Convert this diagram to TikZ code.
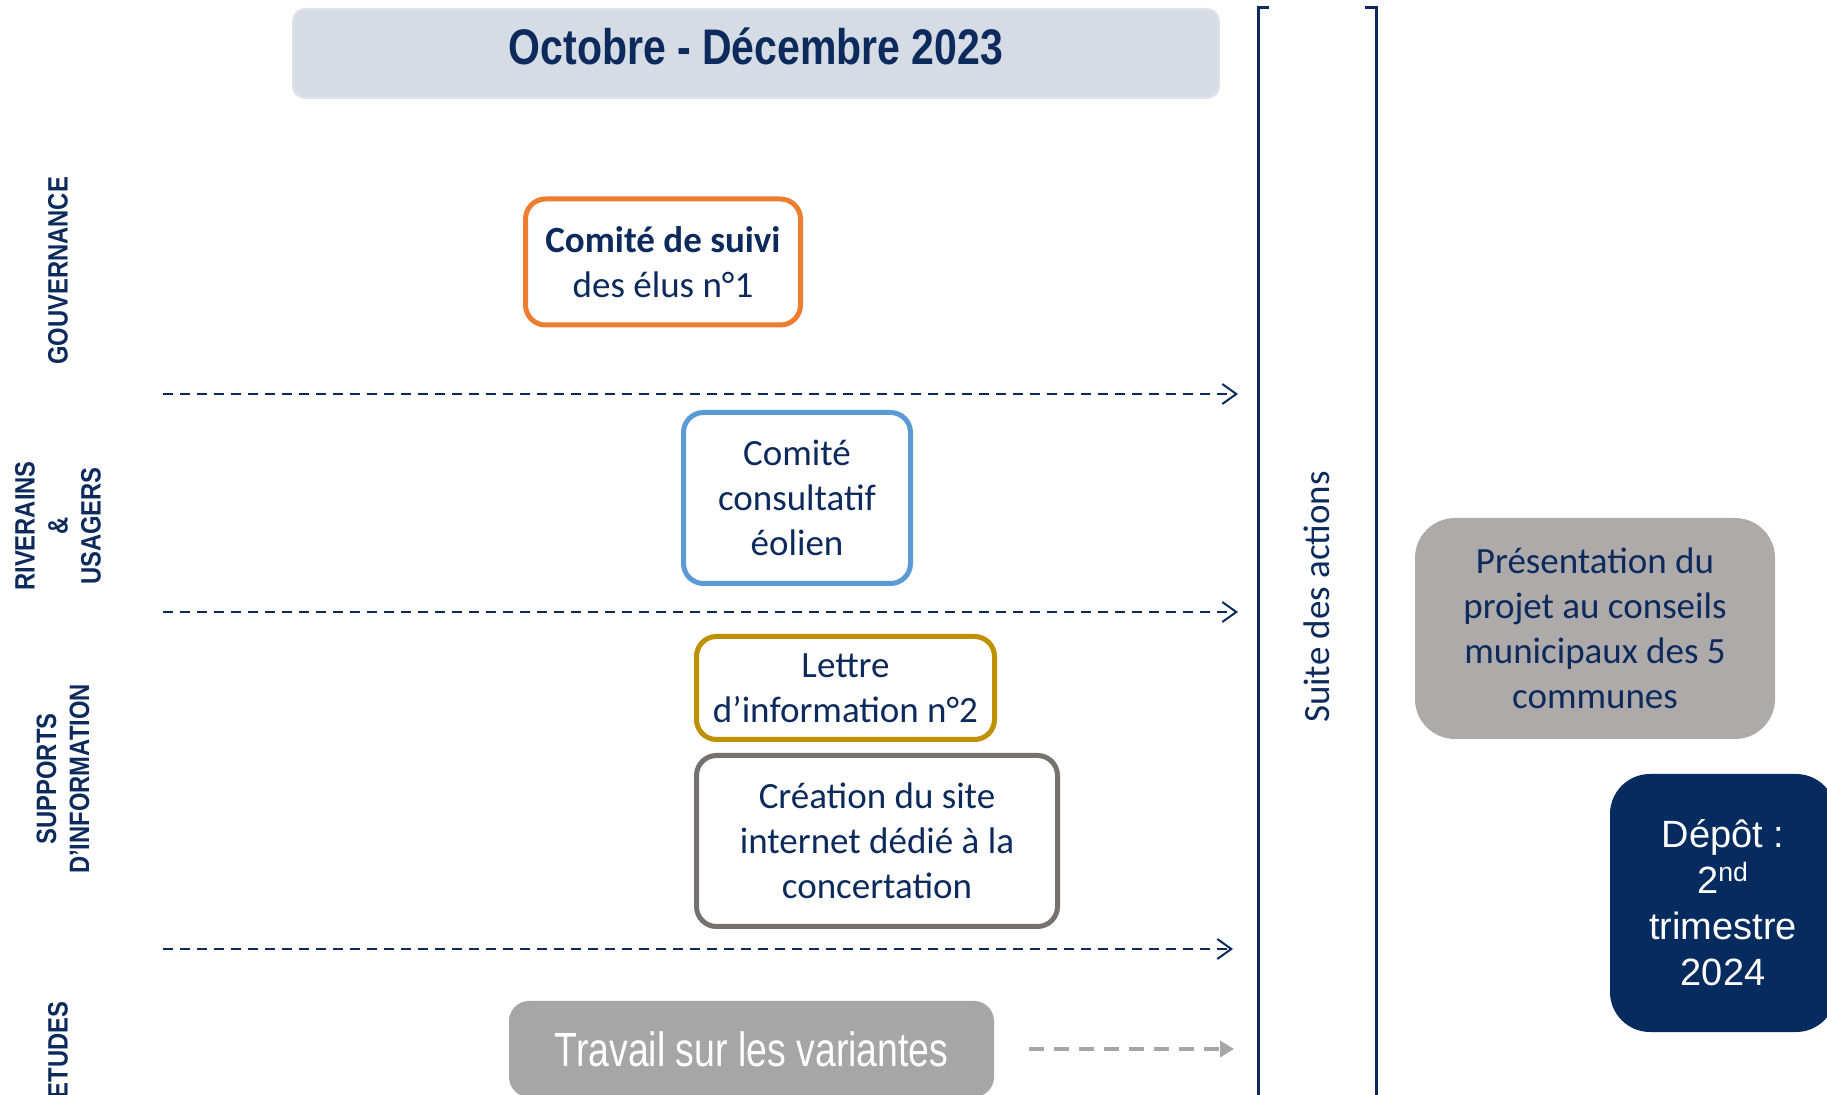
\documentclass[tikz,border=0pt]{standalone}
\usepackage{fontspec}
\setmainfont{Carlito}
\newfontfamily\condfont[FakeStretch=0.82]{Liberation Sans}
\newfontfamily\labfont[FakeStretch=0.85]{Liberation Sans}
\newfontfamily\travfont[FakeStretch=0.78]{Liberation Sans}
\newfontfamily\arialfont{Liberation Sans}
\usetikzlibrary{arrows.meta}
\definecolor{navy}{HTML}{0C2A5C}
\definecolor{titlefill}{HTML}{D6DCE5}
\definecolor{titleline}{HTML}{DEE3EA}
\definecolor{orangeb}{HTML}{ED7D31}
\definecolor{blueb}{HTML}{5B9BD5}
\definecolor{goldb}{HTML}{BF9000}
\definecolor{grayb}{HTML}{767171}
\definecolor{grayfill}{HTML}{A6A6A6}
\definecolor{presfill}{HTML}{AEAAAA}
\definecolor{depotfill}{HTML}{062B5E}
\tikzset{
  boxtext/.style={font=\fontsize{18.5}{22.5}\selectfont, text=navy, align=center},
  event/.style={boxtext, draw, line width=2.5pt, rounded corners=10pt, fill=white, inner sep=0pt},
  lanelabel/.style={font=\labfont\bfseries\fontsize{14}{16.5}\selectfont, text=navy, align=center, rotate=90, inner sep=0pt},
  lanesep/.style={draw=navy, line width=1pt, dash pattern=on 5pt off 3.5pt, -{Straight Barb[length=7pt,width=10pt,line width=1pt]}},
  bracketline/.style={draw=navy, line width=1.5pt},
}
\begin{document}
\begin{tikzpicture}[x=0.5pt,y=-0.5pt]
\useasboundingbox (0,0) rectangle (1827,1095);
\clip (0,0) rectangle (1827,1095);
\fill[white] (0,0) rectangle (1827,1095);

% title
\node (title) at (756,53.5) [draw=titleline, line width=1pt, fill=titlefill, rounded corners=6pt,
  minimum width=463pt, minimum height=44.5pt] {};
\node (titletext) at (756,46.5) [font=\condfont\bfseries\fontsize{25}{30}\selectfont, text=navy] {Octobre - Décembre 2023};

% lane labels
\node (gouv) at (58,271) [lanelabel] {GOUVERNANCE};
\node (riv) at (58,526) [lanelabel] {RIVERAINS\\\&\\USAGERS};
\node (supp) at (63,779) [lanelabel] {SUPPORTS\\D’INFORMATION};
\node (etud) at (58,1050) [lanelabel] {ETUDES};

% lane separators
\coordinate (s1a) at (163,394); \coordinate (s1b) at (1238,394);
\coordinate (s2a) at (163,612); \coordinate (s2b) at (1238,612);
\coordinate (s3a) at (163,949); \coordinate (s3b) at (1233,949);
\draw[lanesep] (s1a) -- (s1b);
\draw[lanesep] (s2a) -- (s2b);
\draw[lanesep] (s3a) -- (s3b);

% events
\node (cs) at (663,262) [event, draw=orangeb, minimum width=137.5pt, minimum height=63pt] {\textbf{Comité de suivi}\\des élus n°1};
\node (cc) at (797,498) [event, draw=blueb, minimum width=113.5pt, minimum height=85.5pt] {Comité\\consultatif\\éolien};
\node (li) at (845.5,688) [event, draw=goldb, minimum width=149pt, minimum height=51.5pt] {Lettre\\d’information n°2};
\node (si) at (877,841) [event, draw=grayb, minimum width=180.5pt, minimum height=85.5pt] {Création du site\\internet dédié à la\\concertation};

\node (tv) at (751.5,1049) [fill=grayfill, rounded corners=10pt, minimum width=242.5pt, minimum height=48pt,
  font=\travfont\fontsize{24}{28}\selectfont, text=white] {Travail sur les variantes};
\coordinate (tva) at (1029,1049); \coordinate (tvb) at (1234,1049);
\draw[draw=grayfill, line width=2pt, dash pattern=on 7.5pt off 5pt, -{Triangle[length=7pt,width=8pt]}] (tva) -- (tvb);

% bracket
\coordinate (bl1) at (1269,8); \coordinate (bl2) at (1258,8); \coordinate (bl3) at (1258,1100);
\coordinate (br1) at (1365,8); \coordinate (br2) at (1376,8); \coordinate (br3) at (1376,1100);
\draw[bracketline] (bl1) -- (bl2) -- (bl3);
\draw[bracketline] (br1) -- (br2) -- (br3);
\node (suite) at (1317,597) [rotate=90, font=\fontsize{18.5}{22}\selectfont, text=navy] {Suite des actions};

% right side
\node (pres) at (1595,628.5) [boxtext, fill=presfill, rounded corners=20pt, minimum width=180pt, minimum height=110.5pt] {Présentation du\\projet au conseils\\municipaux des 5\\communes};
\node (depot) at (1723,903) [fill=depotfill, rounded corners=20pt, minimum width=113pt, minimum height=129pt,
  font=\arialfont\fontsize{19}{23}\selectfont, text=white, align=center] {Dépôt :\\2\textsuperscript{nd}\\trimestre\\2024};
\end{tikzpicture}
\end{document}
